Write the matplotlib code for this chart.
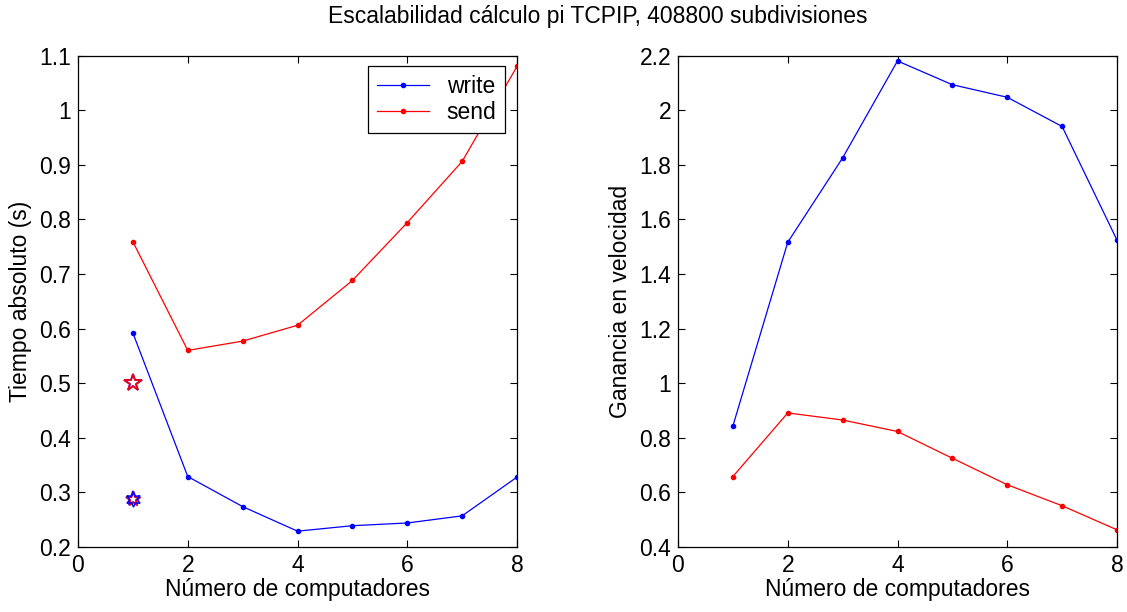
import matplotlib
matplotlib.use("Agg")
import matplotlib.pyplot as plt

plt.rcParams['font.family'] = ['Liberation Sans', 'DejaVu Sans']

x = [1, 2, 3, 4, 5, 6, 7, 8]
t_write = [0.592, 0.329, 0.274, 0.229, 0.239, 0.244, 0.257, 0.328]
t_send = [0.759, 0.560, 0.577, 0.606, 0.688, 0.794, 0.906, 1.080]
s_write = [0.843, 1.516, 1.825, 2.180, 2.093, 2.047, 1.940, 1.524]
s_send = [0.658, 0.891, 0.865, 0.823, 0.725, 0.628, 0.551, 0.463]
ref_x = [1]
ref_pent = [0.5]
ref_hex = [0.287]

FS = 16.5

fig = plt.figure(figsize=(11.27, 6.12), dpi=100)
W, H = 1127, 612
ax1 = fig.add_axes([78/W, 1-547/H, 439/W, 491.5/H])
ax2 = fig.add_axes([678/W, 1-547/H, 439/W, 491.5/H])

blue = '#0000ff'
red = '#ff0000'

ax1.plot(x, t_write, color=blue, lw=0.9, marker='.', ms=6, label='write')
ax1.plot(x, t_send, color=red, lw=0.9, marker='.', ms=6, label='send')
ax1.plot(ref_x, ref_hex, ls='none', marker='*', ms=11, mfc='none', mec=blue, mew=1.3)
ax1.plot(ref_x, ref_hex, ls='none', marker='*', ms=11, mfc='none', mec=red, mew=1.0)
ax1.plot(ref_x, ref_hex, ls='none', marker=(6, 1, 0), ms=11, mfc='none', mec=blue, mew=1.0)
ax1.plot(ref_x, ref_pent, ls='none', marker='*', ms=13, mfc='none', mec=blue, mew=1.3)
ax1.plot(ref_x, ref_pent, ls='none', marker='*', ms=13, mfc='none', mec=red, mew=1.2)

ax2.plot(x, s_write, color=blue, lw=0.9, marker='.', ms=6)
ax2.plot(x, s_send, color=red, lw=0.9, marker='.', ms=6)

ax1.set_xlim(0, 8)
ax1.set_ylim(0.2, 1.1)
ax1.set_xticks([0, 2, 4, 6, 8])
ax1.set_yticks([0.2, 0.3, 0.4, 0.5, 0.6, 0.7, 0.8, 0.9, 1.0, 1.1])
ax1.set_yticklabels(['0.2', '0.3', '0.4', '0.5', '0.6', '0.7', '0.8', '0.9', '1', '1.1'])
ax2.set_xlim(0, 8)
ax2.set_ylim(0.4, 2.2)
ax2.set_xticks([0, 2, 4, 6, 8])
ax2.set_yticks([0.4, 0.6, 0.8, 1.0, 1.2, 1.4, 1.6, 1.8, 2.0, 2.2])
ax2.set_yticklabels(['0.4', '0.6', '0.8', '1', '1.2', '1.4', '1.6', '1.8', '2', '2.2'])

for ax in (ax1, ax2):
    ax.tick_params(direction='in', top=True, right=True, labelsize=FS, length=5, width=0.8, pad=5)
    for s in ax.spines.values():
        s.set_linewidth(0.9)
    ax.set_xlabel('Número de computadores', fontsize=FS, labelpad=1)

ax1.set_ylabel('Tiempo absoluto (s)', fontsize=FS, labelpad=5)
ax2.set_ylabel('Ganancia en velocidad', fontsize=FS, labelpad=5)

leg = ax1.legend(loc='upper right', bbox_to_anchor=(0.9727, 0.9786), borderaxespad=0,
                 fontsize=FS, fancybox=False, edgecolor='black', framealpha=1,
                 handlelength=2.3, handletextpad=0.75, borderpad=0.38, labelspacing=0.16)
leg.get_frame().set_linewidth(0.9)

fig.text(597.5/W, 1-17/H, 'Escalabilidad cálculo pi TCPIP, 408800 subdivisiones',
         ha='center', va='center', fontsize=FS)

fig.savefig('out.png', dpi=100)
